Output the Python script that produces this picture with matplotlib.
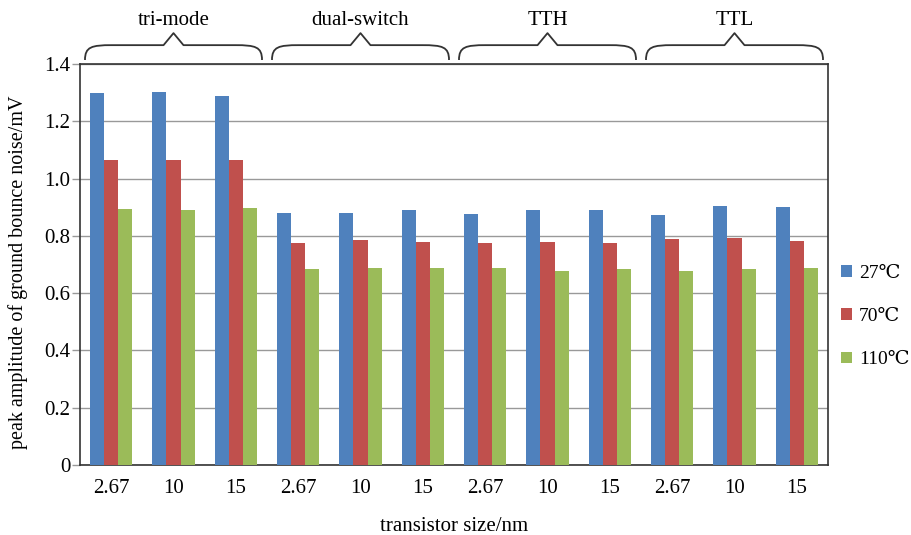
import matplotlib
matplotlib.use("Agg")
import matplotlib.pyplot as plt
import numpy as np
from matplotlib.path import Path
from matplotlib.patches import PathPatch
import matplotlib.transforms as mtransforms

plt.rcParams['font.family'] = ['Liberation Serif', 'DejaVu Serif']

tick_labels = ["2.67", "10", "15"] * 4
groups = ["tri-mode", "dual-switch", "TTH", "TTL"]
series_names = ["27℃", "70℃", "110℃"]
v27 = [1.298, 1.302, 1.288, 0.881, 0.879, 0.889, 0.877, 0.892, 0.892, 0.873, 0.905, 0.900]
v70 = [1.065, 1.065, 1.065, 0.776, 0.786, 0.779, 0.775, 0.778, 0.775, 0.790, 0.793, 0.783]
v110 = [0.894, 0.889, 0.898, 0.683, 0.688, 0.688, 0.688, 0.676, 0.683, 0.676, 0.683, 0.688]
colors = ["#4F81BD", "#C0504D", "#9BBB59"]

FS = 15

fig = plt.figure(figsize=(9.12, 5.35), dpi=100)
ax = fig.add_axes([80/912, 70/535, 748/912, 401/535])

x = np.arange(len(tick_labels))
w = 0.225
for i, (vals, c, name) in enumerate(zip([v27, v70, v110], colors, series_names)):
    ax.bar(x + (i - 1) * w, vals, width=w, color=c, label=name, zorder=3)

ax.set_xlim(-0.5, len(x) - 0.5)
ax.set_ylim(0, 1.4)
ax.set_yticks(np.arange(0, 1.41, 0.2))
ax.set_yticklabels(["0"] + [f"{v:.1f}" for v in np.arange(0.2, 1.41, 0.2)])
ax.set_xticks(x)
ax.set_xticklabels(tick_labels)
ax.tick_params(axis='x', length=0, labelsize=FS, pad=10)
ax.tick_params(axis='y', length=6, width=1.0, color="#999999", labelsize=FS, pad=1)
ax.yaxis.grid(True, color="#999999", linewidth=1.0, zorder=0)
for s in ax.spines.values():
    s.set_color("#333333")
    s.set_linewidth(1.2)

ax.set_ylabel("peak amplitude of ground bounce noise/mV", fontsize=14.5)
ax.yaxis.set_label_coords(-0.07, 0.48)
ax.set_xlabel("transistor size/nm", fontsize=FS, labelpad=14)

leg = ax.legend(loc="center left", bbox_to_anchor=(1.018, 0.37), frameon=False,
                fontsize=14, handlelength=0.55, handleheight=0.55, handletextpad=0.35,
                labelspacing=1.35, borderpad=0, borderaxespad=0)

# braces
trans = mtransforms.blended_transform_factory(ax.transData, ax.transAxes)
y0, y1, y2 = 1.01, 1.047, 1.077
for gi, name in enumerate(groups):
    a = gi * 3 - 0.42
    b = gi * 3 + 2 + 0.42
    m = (a + b) / 2
    r = 0.43
    pk = 0.16
    pts = [
        (a, y0), (a, y1 - 0.004), (a + r * 0.25, y1), (a + r, y1),
        (m - pk, y1), (m, y2), (m + pk, y1),
        (b - r, y1), (b - r * 0.25, y1), (b, y1 - 0.004), (b, y0),
    ]
    codes = [Path.MOVETO, Path.CURVE4, Path.CURVE4, Path.CURVE4,
             Path.LINETO, Path.LINETO, Path.LINETO,
             Path.LINETO, Path.CURVE4, Path.CURVE4, Path.CURVE4]
    patch = PathPatch(Path(pts, codes), transform=trans, fill=False,
                      edgecolor="#333333", linewidth=1.3, clip_on=False,
                      joinstyle="round")
    ax.add_patch(patch)
    ax.text(m, 1.108, name, transform=trans, ha="center", va="center", fontsize=FS)

fig.savefig("out.png", dpi=100)
